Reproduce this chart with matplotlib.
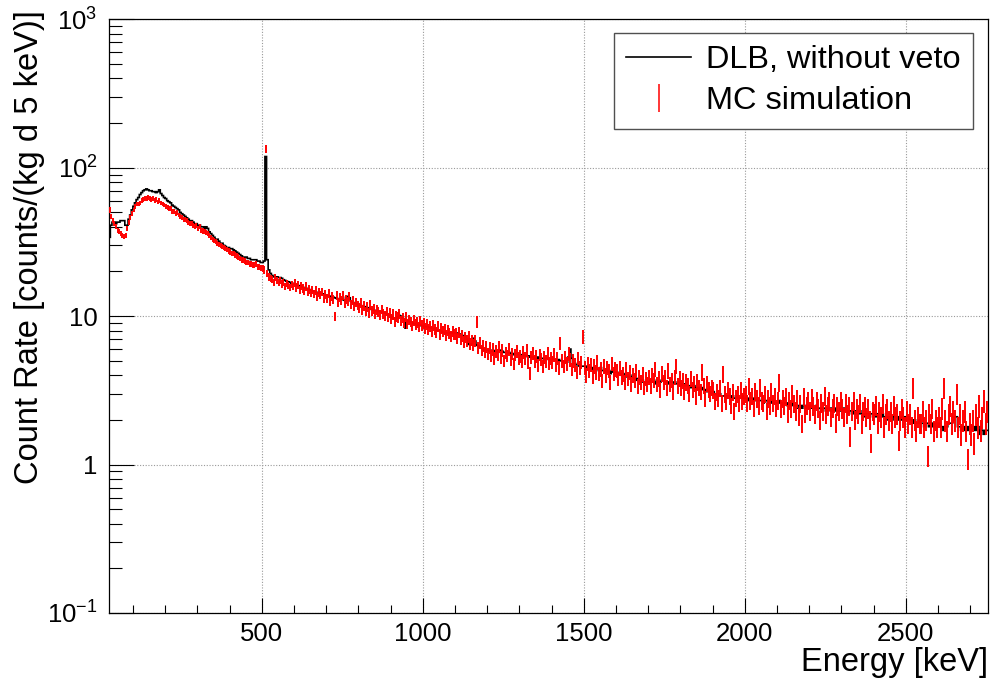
import numpy as np
import matplotlib
matplotlib.use("Agg")
import matplotlib.pyplot as plt
from matplotlib.lines import Line2D
from matplotlib.ticker import LogLocator, NullFormatter, FixedLocator

plt.rcParams['font.family'] = ['Liberation Sans', 'DejaVu Sans']
plt.rcParams['mathtext.fontset'] = 'custom'
plt.rcParams['mathtext.rm'] = 'Liberation Sans'
plt.rcParams['mathtext.it'] = 'Liberation Sans:italic'
plt.rcParams['mathtext.bf'] = 'Liberation Sans:bold'

# ---------------- data ----------------
E_MIN = 25      # keV, lower edge of first bin
E_MAX = 2755    # keV, upper edge of last bin
BIN = 5         # keV bin width

# DLB, without veto  (counts/(kg d 5 keV)), one value per 5 keV bin, rows = 100 keV
dlb_rate = [
    34, 41, 43, 43, 42, 43, 43, 44, 44, 44, 41, 41, 45, 48, 52,                                   # 25-100
    55, 58, 61, 63, 66, 68, 70, 71, 72, 71, 70, 70, 69, 69, 68, 69, 71, 67, 65, 63,               # 100
    62, 60, 59, 58, 56, 55, 54, 53, 52, 50, 49, 48, 47, 46, 45, 44, 44, 43, 42, 42,               # 200
    41, 41, 40, 40, 39, 40, 39, 37, 36, 35, 34, 33, 33, 32, 31, 31, 30, 29.5, 29, 29,             # 300
    28.5, 28.5, 28, 27.5, 27, 26.5, 26, 25.5, 25, 25, 25, 24.5, 24.5, 24, 24, 24, 24, 23.5, 23.5, 23,  # 400
    23, 23.5, 119, 24, 20.5, 19.4, 18.8, 18.4, 18.4, 18.4, 18.2, 18.2, 18, 17.6, 17.4, 17.2, 17, 16.9, 16.7, 16.6,  # 500
    16.4, 16.3, 16.1, 16.0, 15.9, 15.7, 15.5, 15.4, 15.3, 15.1, 15.0, 14.8, 14.7, 14.6, 14.4, 14.3, 14.3, 14.1, 14.0, 13.9,  # 600
    13.8, 13.7, 13.6, 13.5, 13.4, 13.3, 13.2, 13.1, 13.0, 13.0, 12.9, 12.8, 13.4, 13.6, 13.3, 12.6, 12.4, 12.3, 12.2, 12.0,  # 700
    11.9, 11.8, 11.7, 11.6, 11.5, 11.4, 11.3, 11.2, 11.1, 11.0, 10.9, 10.9, 10.8, 10.7, 10.7, 10.6, 10.5, 10.4, 10.3, 10.1,  # 800
    9.9, 9.7, 9.6, 9.7, 9.9, 10.1, 10.0, 9.7, 9.5, 8.3, 9.3, 9.2, 9.1, 9.0, 8.9, 8.9, 8.8, 8.7, 8.7, 8.6,  # 900
    8.6, 8.5, 8.5, 8.4, 8.4, 8.3, 8.3, 8.2, 8.1, 8.0, 8.0, 7.9, 7.8, 7.8, 7.7, 7.7, 7.7, 7.7, 7.7, 7.7,  # 1000
    7.7, 7.7, 7.6, 7.5, 7.4, 7.4, 7.3, 7.0, 6.5, 6.4, 6.5, 7.1, 6.8, 6.4, 6.3, 6.2, 6.1, 6.0, 5.9, 5.9,  # 1100
    5.9, 5.8, 5.8, 5.9, 5.8, 5.8, 5.7, 5.8, 5.9, 5.8, 5.7, 5.7, 5.6, 5.7, 5.6, 5.6, 5.5, 5.6, 5.6, 5.5,  # 1200
    5.5, 5.4, 5.5, 5.4, 5.4, 5.3, 5.4, 5.3, 5.3, 5.2, 5.3, 5.2, 5.3, 5.2, 5.2, 5.1, 5.2, 5.2, 5.1, 5.1,  # 1300
    5.2, 5.1, 5.1, 5.0, 5.1, 5.0, 5.0, 4.9, 5.0, 4.9, 5.3, 6.0, 5.2, 4.8, 4.8, 4.7, 4.7, 4.6, 4.6, 4.6,  # 1400
    4.6, 4.4, 4.6, 4.5, 4.5, 4.4, 4.5, 4.4, 4.4, 4.3, 4.5, 4.3, 4.3, 4.2, 4.3, 4.2, 4.1, 4.3, 4.2, 4.2,  # 1500
    4.2, 4.1, 4.1, 4.0, 4.1, 4.0, 3.9, 4.0, 3.9, 3.9, 4.0, 3.8, 3.7, 3.8, 3.7, 3.6, 3.7, 3.6, 3.5, 3.6,  # 1600
    3.6, 3.7, 3.6, 3.6, 3.5, 3.7, 3.6, 3.6, 3.7, 3.8, 3.6, 3.6, 3.5, 3.6, 3.6, 3.6, 3.5, 3.5, 3.6, 3.4,  # 1700
    3.5, 3.4, 3.5, 3.4, 3.4, 3.3, 3.4, 3.3, 3.4, 3.3, 3.2, 3.3, 3.2, 3.3, 3.2, 3.1, 3.2, 3.1, 3.1, 3.0,  # 1800
    3.1, 3.0, 3.0, 2.9, 3.0, 2.9, 2.9, 2.9, 2.8, 2.9, 2.9, 2.8, 2.9, 2.8, 2.8, 2.9, 2.8, 2.8, 2.9, 2.8,  # 1900
    2.8, 2.8, 2.7, 2.8, 2.8, 2.7, 2.8, 2.7, 2.8, 2.7, 2.7, 2.6, 2.7, 2.7, 2.6, 2.7, 2.6, 2.7, 2.6, 2.6,  # 2000
    2.6, 2.7, 2.6, 2.5, 2.6, 2.6, 2.5, 2.6, 2.5, 2.6, 2.5, 2.5, 2.4, 2.5, 2.5, 2.4, 2.5, 2.5, 2.4, 2.5,  # 2100
    2.4, 2.5, 2.4, 2.4, 2.5, 2.4, 2.4, 2.3, 2.4, 2.4, 2.3, 2.4, 2.4, 2.3, 2.4, 2.3, 2.4, 2.3, 2.3, 2.4,  # 2200
    2.3, 2.4, 2.3, 2.3, 2.2, 2.3, 2.3, 2.2, 2.3, 2.2, 2.2, 2.3, 2.2, 2.2, 2.1, 2.2, 2.2, 2.1, 2.2, 2.2,  # 2300
    2.2, 2.1, 2.2, 2.1, 2.1, 2.2, 2.1, 2.1, 2.0, 2.1, 2.1, 2.0, 2.1, 2.1, 2.0, 2.1, 2.0, 2.1, 2.0, 2.1,  # 2400
    2.0, 2.1, 2.0, 2.0, 1.9, 2.0, 1.9, 1.9, 2.0, 1.9, 1.9, 1.8, 1.9, 1.9, 1.8, 1.9, 1.8, 1.9, 1.8, 1.8,  # 2500
    1.9, 1.8, 1.8, 1.7, 1.8, 1.8, 1.9, 1.9, 1.9, 2.0, 2.1, 2.1, 1.8, 1.8, 1.7, 1.8, 1.7, 1.8, 1.7, 1.8,  # 2600
    1.7, 1.8, 1.7, 1.8, 1.7, 1.6, 1.8, 1.7, 1.6, 1.7, 1.7,                                         # 2700-2755
]

# MC simulation (counts/(kg d 5 keV)), one value per 5 keV bin
mc_rate = [
    52, 47, 44, 42, 40, 38, 37, 36, 35, 34.5, 35, 39, 43, 46, 49,                                  # 25-100
    52, 55, 57, 57, 58, 60, 61, 62, 62, 63, 62, 61, 62, 60, 61, 59, 60, 58, 57, 56,                # 100
    55, 54, 53, 53, 51, 51, 49, 50, 48, 47, 46, 45, 45, 44, 43, 42, 42, 41, 40, 41,                # 200
    39, 40, 38, 37.5, 37, 36.5, 36, 35, 34, 33, 32.5, 32, 31, 30.5, 30, 29.5, 29, 28.5, 28, 27.5,  # 300
    27, 26.5, 26.5, 26, 25.5, 25, 24.5, 24, 24, 23.5, 23, 23, 22.5, 22.5, 22, 22, 22.5, 21.5, 21.5, 21,  # 400
    21, 20.5, 134, 19.5, 18.4, 18.0, 17.6, 17.0, 18.2, 17.4, 16.8, 17.5, 16.5, 16.9, 15.8, 16.6, 16.2, 15.6, 16.3, 15.9,  # 500
    16.8, 15.6, 16.2, 15.1, 16.0, 15.4, 14.8, 15.9, 14.6, 15.2, 14.3, 15.0, 14.1, 14.9, 13.6, 14.5, 13.9, 14.6, 13.2, 14.0,  # 600
    13.1, 14.2, 12.6, 13.5, 12.9, 10.0, 13.8, 12.4, 13.3, 12.7, 13.9, 12.2, 13.0, 12.5, 13.6, 12.0, 12.8, 11.7, 12.4, 11.9,  # 700
    11.4, 12.3, 11.0, 11.8, 10.8, 11.5, 10.5, 11.9, 10.9, 11.2, 10.3, 11.0, 10.7, 10.2, 11.1, 10.4, 10.0, 10.8, 9.8, 10.5,  # 800
    9.6, 10.3, 9.2, 10.0, 9.8, 10.4, 9.3, 9.7, 9.0, 9.9, 8.9, 9.5, 9.2, 8.6, 9.4, 8.8, 9.1, 8.5, 9.3, 8.7,  # 900
    9.0, 8.3, 8.8, 8.1, 8.6, 7.9, 8.7, 8.2, 7.8, 8.5, 7.6, 8.3, 7.9, 8.1, 7.4, 8.0, 7.7, 7.3, 7.9, 7.5,  # 1000
    7.6, 7.1, 7.8, 7.0, 7.4, 6.7, 7.2, 6.8, 7.3, 6.5, 6.9, 6.4, 6.8, 9.2, 6.1, 6.6, 5.9, 6.3, 5.7, 6.2,  # 1100
    5.6, 6.1, 5.4, 6.0, 5.2, 5.8, 5.5, 6.2, 5.3, 5.9, 5.0, 5.7, 5.4, 6.0, 5.1, 5.6, 4.8, 5.5, 5.8, 5.2,  # 1200
    5.4, 5.0, 5.7, 5.2, 5.9, 4.9, 4.1, 5.3, 5.6, 5.0, 5.4, 4.7, 5.5, 5.1, 4.6, 5.3, 5.0, 5.6, 4.8, 5.2,  # 1300
    4.9, 5.5, 4.7, 5.2, 4.5, 6.6, 5.0, 4.6, 5.3, 4.8, 5.6, 5.1, 4.4, 5.0, 4.7, 4.2, 5.2, 4.5, 4.9, 7.3,  # 1400
    4.5, 4.0, 4.8, 4.3, 4.7, 3.9, 4.6, 4.2, 4.9, 4.1, 4.4, 3.7, 4.6, 4.0, 4.5, 4.3, 3.6, 4.8, 4.1, 4.4,  # 1500
    4.3, 3.8, 4.5, 3.9, 4.1, 3.6, 4.4, 3.8, 4.2, 3.5, 4.0, 3.7, 4.3, 3.4, 3.9, 3.6, 4.1, 3.3, 3.8, 3.5,  # 1600
    3.9, 3.4, 4.0, 3.7, 4.4, 3.5, 3.8, 3.2, 4.1, 3.6, 3.9, 3.3, 4.3, 3.5, 3.7, 3.1, 3.9, 4.6, 3.4, 3.8,  # 1700
    3.3, 3.7, 3.1, 3.6, 3.4, 3.0, 3.8, 3.2, 3.5, 2.9, 3.6, 3.3, 3.1, 4.2, 3.4, 2.8, 3.5, 3.2, 3.0, 3.3,  # 1800
    3.2, 2.7, 3.1, 2.8, 3.3, 2.6, 4.1, 3.0, 2.7, 3.2, 2.9, 2.5, 3.1, 2.3, 2.8, 3.0, 2.6, 3.2, 2.7, 2.9,  # 1900
    3.0, 2.6, 3.4, 2.7, 2.9, 2.4, 3.1, 2.8, 2.5, 3.3, 2.7, 2.6, 3.0, 2.3, 2.8, 2.5, 3.1, 2.6, 2.9, 2.4,  # 2000
    2.7, 3.6, 2.4, 2.8, 2.5, 2.9, 2.2, 2.7, 2.4, 3.0, 2.6, 2.3, 2.8, 2.1, 2.6, 1.9, 2.9, 2.2, 2.5, 2.7,  # 2100
    2.3, 2.8, 2.5, 2.2, 2.7, 2.4, 2.0, 2.6, 2.3, 2.9, 2.2, 2.5, 2.7, 2.1, 2.4, 2.6, 1.9, 2.5, 2.3, 2.7,  # 2200
    2.4, 2.1, 2.6, 2.2, 2.5, 1.55, 2.3, 2.7, 2.0, 2.4, 2.2, 2.6, 1.9, 2.3, 2.5, 2.1, 2.4, 2.0, 1.4, 2.3,  # 2300
    2.2, 2.5, 1.9, 2.3, 2.1, 2.6, 1.8, 2.2, 2.4, 2.0, 2.3, 1.9, 2.5, 2.1, 2.2, 1.45, 2.0, 2.4, 2.1, 1.8,  # 2400
    2.3, 1.9, 2.2, 1.8, 3.3, 2.0, 1.7, 2.1, 1.9, 1.9, 2.3, 1.8, 2.0, 1.15, 2.2, 1.9, 2.4, 1.7, 2.0, 1.8,  # 2500
    2.1, 1.8, 2.4, 3.3, 2.0, 1.7, 2.2, 2.5, 1.9, 2.3, 2.0, 3.0, 1.8, 2.2, 1.6, 2.0, 2.3, 1.7, 1.1, 1.9,  # 2600
    1.6, 2.0, 1.4, 2.2, 1.8, 2.5, 1.7, 2.1, 2.7, 1.9, 2.3,                                          # 2700-2755
]

# relative statistical error of the MC, read per 100 keV region (first: 25-100, last: 2700-2755)
mc_relerr_region = [0.040, 0.035, 0.037, 0.040, 0.045, 0.055, 0.065, 0.070, 0.075, 0.080,
                    0.085, 0.090, 0.095, 0.100, 0.105, 0.110, 0.115, 0.120, 0.125, 0.130,
                    0.135, 0.140, 0.145, 0.150, 0.155, 0.160, 0.165, 0.170]
bins_per_region = [15] + [20] * 26 + [11]

x_major = [500, 1000, 1500, 2000, 2500]
y_major = [0.1, 1, 10, 100, 1000]
y_major_labels = ['$10^{-1}$', '1', '10', '$10^{2}$', '$10^{3}$']

# ---------------- plot ----------------
edges = np.arange(E_MIN, E_MAX + BIN / 2, BIN)
centers = edges[:-1] + BIN / 2
dlb = np.array(dlb_rate, dtype=float)
mc = np.array(mc_rate, dtype=float)
relerr = np.repeat(mc_relerr_region, bins_per_region)
assert len(dlb) == len(mc) == len(centers) == len(relerr)

fig = plt.figure(figsize=(9.92, 6.9), dpi=100)
ax = fig.add_axes([0.1096, 0.1116, 0.8864, 0.8604])

ax.stairs(dlb, edges, color='black', lw=1.2, baseline=None, zorder=3)
ax.errorbar(centers, mc, yerr=mc * relerr, fmt='none', ecolor='#ff0000',
            elinewidth=1.4, capsize=0, zorder=4)

ax.set_yscale('log')
ax.set_xlim(E_MIN, E_MAX)
ax.set_ylim(0.1, 1000)

ax.set_xticks(x_major)
ax.set_xticklabels([str(v) for v in x_major])
ax.xaxis.set_minor_locator(FixedLocator(np.arange(100, 2751, 100)))
ax.set_yticks(y_major)
ax.set_yticklabels(y_major_labels)
ax.yaxis.set_minor_locator(LogLocator(base=10, subs=np.arange(2, 10)))
ax.yaxis.set_minor_formatter(NullFormatter())

ax.tick_params(axis='both', which='both', direction='in', top=False, right=False,
               width=0.8, labelsize=18.5)
ax.tick_params(axis='x', which='major', length=11, pad=6.5)
ax.tick_params(axis='x', which='minor', length=5.8)
ax.tick_params(axis='y', which='major', length=18, pad=8)
ax.tick_params(axis='y', which='minor', length=9)

for s in ax.spines.values():
    s.set_linewidth(0.9)

ax.grid(True, which='major', ls=(0, (1, 1.5)), color='#9a9a9a', lw=0.8, zorder=0)

ax.set_xlabel('Energy [keV]', fontsize=23.5, loc='right')
ax.xaxis.set_label_coords(1.0, -0.058)
ax.set_ylabel('Count Rate [counts/(kg d 5 keV)]', fontsize=23.5, loc='top')
ax.yaxis.set_label_coords(-0.072, 1.016)

handles = [Line2D([], [], color='black', lw=1.2),
           Line2D([], [], color='#ff0000', marker='|', ls='none', markersize=19.5,
                  markeredgewidth=1.1)]
leg = ax.legend(handles, ['DLB, without veto', 'MC simulation'], loc='upper right',
                bbox_to_anchor=(0.983, 0.9774), fontsize=23.4, frameon=True,
                fancybox=False, framealpha=1, edgecolor='#505050', borderpad=0.38,
                handlelength=2.0, handletextpad=0.45, labelspacing=0.35,
                borderaxespad=0)
leg.get_frame().set_linewidth(1.0)

fig.savefig('out.png', dpi=100)
